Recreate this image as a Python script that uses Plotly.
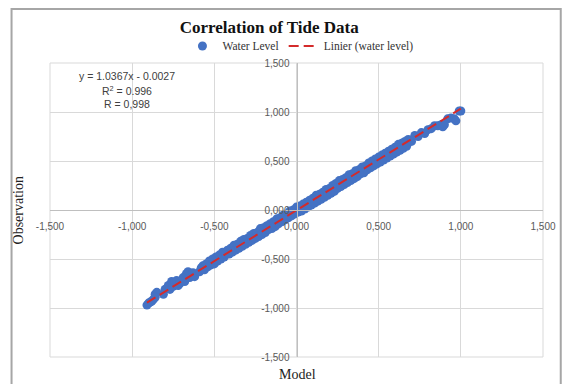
import plotly.graph_objects as go

# ---- data ----
model_x = [-0.91, -0.90, -0.89, -0.88, -0.87, -0.86, -0.85, -0.86,
           -0.81, -0.80, -0.79, -0.78, -0.77, -0.76, -0.75, -0.74, -0.73, -0.72, -0.71,
           -0.69, -0.68, -0.67, -0.66, -0.65, -0.64, -0.63, -0.62,
           -0.59, -0.58, -0.57, -0.56, -0.55, -0.54, -0.53, -0.52, -0.51, -0.50,
           -0.49, -0.48, -0.47, -0.46, -0.45, -0.44, -0.43, -0.42, -0.41, -0.40,
           -0.39, -0.38, -0.37, -0.36, -0.35, -0.34, -0.33, -0.32, -0.31, -0.30,
           -0.29, -0.28, -0.27, -0.26, -0.25, -0.24, -0.23, -0.22, -0.21, -0.20,
           -0.19, -0.18, -0.17, -0.16, -0.15, -0.14, -0.13, -0.12, -0.11, -0.10,
           -0.09, -0.08, -0.07, -0.06, -0.05, -0.04, -0.03, -0.02, -0.01, 0.00,
           0.01, 0.02, 0.03, 0.04, 0.05, 0.06, 0.07, 0.08, 0.09, 0.10,
           0.11, 0.12, 0.13, 0.14, 0.15, 0.16, 0.17, 0.18, 0.19, 0.20,
           0.21, 0.22, 0.23, 0.24, 0.25, 0.26, 0.27, 0.28, 0.29, 0.30,
           0.31, 0.32, 0.33, 0.34, 0.35, 0.36, 0.37, 0.38, 0.39, 0.40,
           0.41, 0.42, 0.43, 0.44, 0.45, 0.46, 0.47, 0.48, 0.49, 0.50,
           0.51, 0.52, 0.53, 0.54, 0.55, 0.56, 0.57, 0.58, 0.59, 0.60,
           0.61, 0.62, 0.63, 0.64, 0.65, 0.66, 0.67, 0.68, 0.70, 0.72,
           0.74, 0.76, 0.78, 0.80, 0.82, 0.84, 0.86, 0.88, 0.89, 0.90,
           0.92, 0.94, 0.96, 0.97, 0.99, 1.00]
observed_y = [-0.97, -0.95, -0.94, -0.93, -0.91, -0.86, -0.84, -0.89,
              -0.86, -0.81, -0.80, -0.77, -0.81, -0.73, -0.78, -0.74, -0.72, -0.77, -0.75,
              -0.69, -0.73, -0.65, -0.63, -0.69, -0.66, -0.64, -0.68,
              -0.63, -0.59, -0.57, -0.61, -0.55, -0.58, -0.52, -0.56, -0.50, -0.55,
              -0.48, -0.52, -0.46, -0.50, -0.43, -0.48, -0.45, -0.41, -0.45, -0.39,
              -0.43, -0.36, -0.41, -0.35, -0.39, -0.32, -0.37, -0.30, -0.35, -0.29,
              -0.33, -0.26, -0.31, -0.24, -0.29, -0.23, -0.27, -0.19, -0.25, -0.18,
              -0.23, -0.16, -0.20, -0.14, -0.19, -0.12, -0.17, -0.09, -0.14, -0.08,
              -0.12, -0.05, -0.10, -0.04, -0.08, -0.01, -0.06, 0.00, -0.04, 0.03,
              -0.02, 0.04, -0.01, 0.06, 0.01, 0.08, 0.03, 0.10, 0.05, 0.12,
              0.07, 0.15, 0.09, 0.16, 0.11, 0.18, 0.13, 0.21, 0.15, 0.22,
              0.17, 0.25, 0.19, 0.27, 0.22, 0.30, 0.24, 0.31, 0.26, 0.33,
              0.28, 0.36, 0.30, 0.37, 0.32, 0.40, 0.34, 0.41, 0.37, 0.44,
              0.38, 0.45, 0.41, 0.48, 0.43, 0.50, 0.45, 0.52, 0.47, 0.54,
              0.49, 0.56, 0.51, 0.58, 0.53, 0.60, 0.55, 0.62, 0.57, 0.64,
              0.59, 0.67, 0.61, 0.68, 0.63, 0.70, 0.65, 0.72, 0.70, 0.76,
              0.75, 0.79, 0.78, 0.82, 0.83, 0.86, 0.86, 0.87, 0.85, 0.87,
              0.93, 0.94, 0.93, 0.91, 1.01, 1.01]

trend_slope = 1.0367
trend_intercept = -0.0027

tick_vals = [-1.5, -1.0, -0.5, 0.0, 0.5, 1.0, 1.5]
tick_text = ["-1,500", "-1,000", "-0,500", "0,000", "0,500", "1,000", "1,500"]

# ---- figure ----
trend_x = [min(model_x), max(model_x)]
trend_y = [trend_slope * v + trend_intercept for v in trend_x]

fig = go.Figure()
fig.add_trace(go.Scatter(
    x=model_x, y=observed_y, mode="markers", name="Water Level",
    marker=dict(color="#4472C4", size=9, line=dict(width=0)),
))
fig.add_trace(go.Scatter(
    x=trend_x, y=trend_y, mode="lines", name="Linier (water level)",
    line=dict(color="#D42B2B", width=2, dash="10px,5px"),
))

tickfont = dict(family="Liberation Sans", size=10, color="#595959")
fig.update_layout(
    width=568, height=384,
    margin=dict(l=50, r=20, t=63, b=27),
    paper_bgcolor="white", plot_bgcolor="white",
    title=dict(text="<b>Correlation of Tide Data</b>", x=0.474, xanchor="center",
               y=0.93, yanchor="middle",
               font=dict(family="Liberation Serif", size=17, color="#111111")),
    legend=dict(orientation="h", x=0.508, xanchor="center", y=1.058, yanchor="middle",
                font=dict(family="Liberation Serif", size=11.5, color="#333333"),
                bgcolor="rgba(0,0,0,0)", itemwidth=30),
    showlegend=True,
    xaxis=dict(range=[-1.5, 1.5], tickvals=tick_vals, ticktext=tick_text,
               showgrid=True, gridcolor="#D9D9D9", gridwidth=1, zeroline=False,
               showline=True, linecolor="#BFBFBF", linewidth=1,
               anchor="free", position=0.5, ticks="", ticklabelstandoff=7,
               tickfont=tickfont, mirror=False),
    yaxis=dict(range=[-1.5, 1.5], tickvals=tick_vals, ticktext=tick_text,
               showgrid=True, gridcolor="#D9D9D9", gridwidth=1, zeroline=False,
               showline=True, linecolor="#BFBFBF", linewidth=1,
               anchor="free", position=0.5, ticks="", ticklabelstandoff=5,
               tickfont=tickfont),
)

fig.add_shape(type="rect", xref="paper", yref="paper", x0=0, x1=1, y0=0, y1=1,
              line=dict(color="#D9D9D9", width=1), layer="below")
# chart frame
fig.add_shape(type="rect", xref="paper", yref="paper", x0=-0.078, x1=1.036,
              y0=-0.095, y1=1.184, line=dict(color="#A6A6A6", width=2))

eqfont = dict(family="Liberation Sans", size=10.5, color="#404040")
fig.add_annotation(x=-1.03, y=1.0, xref="x", yref="paper", text="y = 1.0367x - 0.0027",
                   showarrow=False, font=eqfont, yanchor="middle", yshift=-13)
fig.add_annotation(x=-1.03, y=1.0, xref="x", yref="paper", text="R<sup>2</sup> = 0.996",
                   showarrow=False, font=eqfont, yanchor="middle", yshift=-27)
fig.add_annotation(x=-1.03, y=1.0, xref="x", yref="paper", text="R = 0,998",
                   showarrow=False, font=eqfont, yanchor="middle", yshift=-41)

fig.add_annotation(x=-0.064, y=0.5, xref="paper", yref="paper", text="Observation",
                   textangle=-90, showarrow=False, xanchor="center", yanchor="middle",
                   font=dict(family="Liberation Serif", size=14, color="#222222"))
fig.add_annotation(x=0.502, y=-0.058, xref="paper", yref="paper", text="Model",
                   showarrow=False, xanchor="center", yanchor="middle",
                   font=dict(family="Liberation Serif", size=14, color="#222222"))

fig.write_html("out.html")
